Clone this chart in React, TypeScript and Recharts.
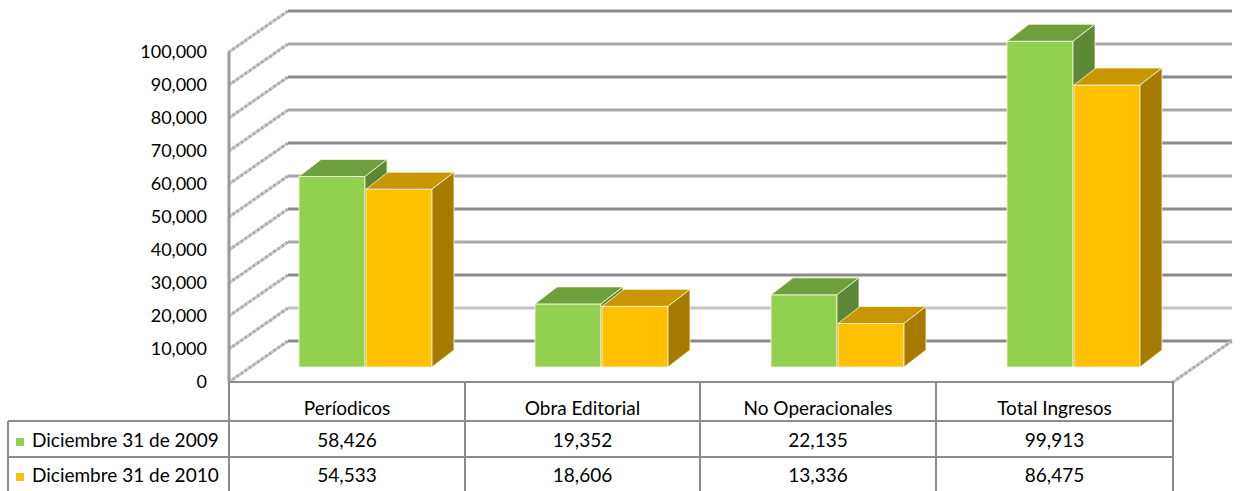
// dependencies
import React from "react";
import { BarChart, Bar, XAxis, YAxis, CartesianGrid } from "recharts";

// data
const categories = ["Períodicos", "Obra Editorial", "No Operacionales", "Total Ingresos"];
const dic2009 = [58426, 19352, 22135, 99913];
const dic2010 = [54533, 18606, 13336, 86475];
const yTicks = [0, 10000, 20000, 30000, 40000, 50000, 60000, 70000, 80000, 90000, 100000];
const seriesNames = ["Diciembre 31 de 2009", "Diciembre 31 de 2010"];

const chartData = categories.map((name, i) => ({ name, d2009: dic2009[i], d2010: dic2010[i] }));

// geometry of the fake 3D
const WALL_DX = 59;
const WALL_DY = -41;
const BAR_DX = 22;
const BAR_DY = -17;
const SHIFT_X = 18;
const SHIFT_Y = -15;
const SCALE = 0.988;

const FONT = "Lato, 'Open Sans', sans-serif";
const LINE = "#8c8c8c";

const fmt = (v: number) => v.toLocaleString("en-US");

const GREEN = { front: "#92D050", top: "#6E9F3D", side: "#5B8835" };
const YELLOW = { front: "#FFC000", top: "#C79600", side: "#A67B00" };

const makeShape = (pal: { front: string; top: string; side: string }) => (props: any) => {
  const { x, y, width, height } = props;
  const base = y + height + SHIFT_Y;
  const h = height * SCALE;
  const x0 = x + SHIFT_X;
  const top = base - h;
  const w = width;
  const edge = { stroke: "#fff7e0", strokeWidth: 1, strokeOpacity: 0.8 };
  return (
    <g>
      <rect x={x0} y={top} width={w} height={h} fill={pal.front} {...edge} />
      <polygon
        points={`${x0},${top} ${x0 + BAR_DX},${top + BAR_DY} ${x0 + w + BAR_DX},${top + BAR_DY} ${x0 + w},${top}`}
        fill={pal.top}
        {...edge}
      />
      <polygon
        points={`${x0 + w},${top} ${x0 + w + BAR_DX},${top + BAR_DY} ${x0 + w + BAR_DX},${base + BAR_DY} ${x0 + w},${base}`}
        fill={pal.side}
        {...edge}
      />
    </g>
  );
};

// one horizontal grid line: diagonal on the left wall + back wall line
const GridLine = (props: any) => {
  const { x1, y1, x2, y, height, index } = props;
  const bottom = Math.abs(y1 - (y + height)) < 1;
  const dark = index % 2 === 0;
  const color = index === 1 ? "#c4c4c4" : dark ? "#8a8a8a" : "#a8a8a8";
  return (
    <g>
      <line x1={x1} y1={y1} x2={x1 + WALL_DX} y2={y1 + WALL_DY} stroke="#c6c6c6" strokeWidth={3} />
      <line
        x1={x1}
        y1={y1}
        x2={x1 + WALL_DX}
        y2={y1 + WALL_DY}
        stroke="#8f8f8f"
        strokeWidth={3}
        strokeDasharray="1 4"
      />
      <line x1={x1 + WALL_DX} y1={y1 + WALL_DY} x2={x2 + WALL_DX} y2={y1 + WALL_DY} stroke={color} strokeWidth={3} />
      {bottom && (
        <g>
          <line x1={x2} y1={y1} x2={x2 + WALL_DX} y2={y1 + WALL_DY} stroke="#c6c6c6" strokeWidth={3} />
          <line
            x1={x2}
            y1={y1}
            x2={x2 + WALL_DX}
            y2={y1 + WALL_DY}
            stroke="#8f8f8f"
            strokeWidth={3}
            strokeDasharray="1 4"
          />
        </g>
      )}
    </g>
  );
};

const colX = [229, 465, 700, 936, 1173];

const DataTable: React.FC = () => {
  const cell = (left: number, top: number, width: number, height: number, text: string, key: string) => (
    <div
      key={key}
      style={{
        position: "absolute",
        left,
        top,
        width,
        height,
        lineHeight: `${height}px`,
        textAlign: "center",
        fontSize: 19,
        color: "#000",
      }}
    >
      {text}
    </div>
  );
  return (
    <div style={{ position: "absolute", left: 0, top: 0, width: 1241, height: 491, fontFamily: FONT }}>
      {/* horizontal lines */}
      <div style={{ position: "absolute", left: 229, top: 381, width: 944, height: 2, background: LINE }} />
      <div style={{ position: "absolute", left: 8, top: 420, width: 1165, height: 2, background: LINE }} />
      <div style={{ position: "absolute", left: 8, top: 456, width: 1165, height: 2, background: LINE }} />
      {/* vertical lines */}
      {colX.map((x) => (
        <div key={`v${x}`} style={{ position: "absolute", left: x - 1, top: 382, width: 2, height: 109, background: LINE }} />
      ))}
      <div style={{ position: "absolute", left: 7, top: 421, width: 2, height: 70, background: LINE }} />
      {categories.map((c, i) => cell(colX[i], 396, colX[i + 1] - colX[i], 24, c, `c${i}`))}
      {dic2009.map((v, i) => cell(colX[i], 422, colX[i + 1] - colX[i], 36, fmt(v), `a${i}`))}
      {dic2010.map((v, i) => cell(colX[i], 458, colX[i + 1] - colX[i], 34, fmt(v), `b${i}`))}
      {seriesNames.map((s, i) => (
        <div
          key={s}
          style={{
            position: "absolute",
            left: 16,
            top: i === 0 ? 422 : 458,
            height: i === 0 ? 36 : 34,
            lineHeight: `${i === 0 ? 36 : 34}px`,
            fontSize: 19,
            color: "#000",
            whiteSpace: "nowrap",
          }}
        >
          <span
            style={{
              display: "inline-block",
              width: 8,
              height: 8,
              background: i === 0 ? GREEN.front : YELLOW.front,
              marginRight: 8,
              verticalAlign: "middle",
            }}
          />
          {s}
        </div>
      ))}
    </div>
  );
};

const App: React.FC = () => {
  return (
    <div style={{ position: "absolute", left: 0, top: 0, width: 1241, height: 491, background: "#fff" }}>
      <BarChart
        width={1241}
        height={491}
        data={chartData}
        margin={{ top: 52, right: 68, bottom: 109, left: 169 }}
        barGap={1}
        barSize={66}
      >
        <CartesianGrid vertical={false} horizontal={(p: any) => <GridLine {...p} />} />
        <XAxis dataKey="name" hide />
        <YAxis
          width={60}
          domain={[0, 100000]}
          ticks={yTicks}
          tickFormatter={fmt}
          interval={0}
          axisLine={{ stroke: "#9a9a9a", strokeWidth: 3 }}
          tickLine={false}
          tickSize={6}
          tickMargin={16}
          tick={{ fill: "#000", fontSize: 18, fontFamily: FONT }}
        />
        <Bar dataKey="d2009" isAnimationActive={false} shape={makeShape(GREEN)} />
        <Bar dataKey="d2010" isAnimationActive={false} shape={makeShape(YELLOW)} />
      </BarChart>
      <DataTable />
    </div>
  );
};

export default App;
